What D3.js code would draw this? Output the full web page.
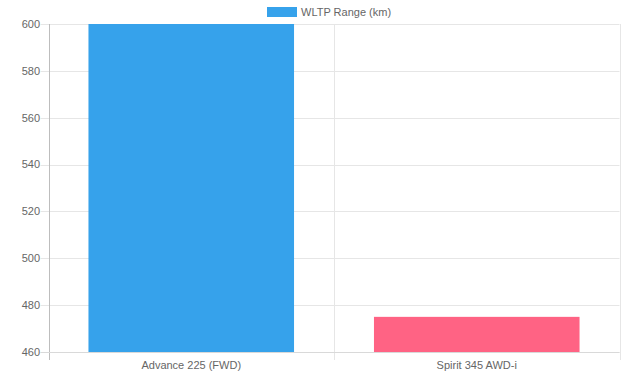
<!DOCTYPE html>
<html>
<head>
<meta charset="utf-8">
<script src="https://cdn.jsdelivr.net/npm/d3@7"></script>
<style>
  body { margin: 0; background: #fff; }
  svg { display: block; font-family: "Liberation Sans", Arial, sans-serif; }
</style>
</head>
<body>
<svg id="chart" width="636" height="378"></svg>
<script>
// data
const models = ["Advance 225 (FWD)", "Spirit 345 AWD-i"];
const rangeKm = [600, 475];
const barColors = ["#36a2eb", "#ff6384"];
const yTicks = [460, 480, 500, 520, 540, 560, 580, 600];
const seriesName = "WLTP Range (km)";

const svg = d3.select("#chart");
const plotL = 48.5, plotR = 619.5, plotT = 24, plotB = 352;

const x = d3.scaleBand().domain(models).range([plotL, plotR]).paddingInner(0).paddingOuter(0);
const y = d3.scaleLinear().domain([460, 600]).range([plotB, plotT]);

// horizontal grid + tick marks
svg.append("g")
  .selectAll("line")
  .data(yTicks)
  .join("line")
  .attr("x1", plotL - 8)
  .attr("x2", plotR)
  .attr("y1", d => Math.round(y(d)) + 0.5)
  .attr("y2", d => Math.round(y(d)) + 0.5)
  .attr("stroke", "#e6e6e6");

// vertical grid at category edges
const edges = [plotL + x.bandwidth(), plotR];
svg.append("g")
  .selectAll("line")
  .data(edges)
  .join("line")
  .attr("x1", d => Math.round(d) + 0.5)
  .attr("x2", d => Math.round(d) + 0.5)
  .attr("y1", plotT)
  .attr("y2", plotB + 8)
  .attr("stroke", "#e6e6e6");

// bars
svg.append("g")
  .selectAll("rect")
  .data(models)
  .join("rect")
  .attr("x", d => x(d) + x.bandwidth() * 0.14)
  .attr("width", x.bandwidth() * 0.72)
  .attr("y", (d, i) => y(rangeKm[i]))
  .attr("height", (d, i) => plotB - y(rangeKm[i]))
  .attr("fill", (d, i) => barColors[i]);

// axis lines
svg.append("line")
  .attr("x1", Math.round(plotL) + 0.5).attr("x2", Math.round(plotL) + 0.5)
  .attr("y1", plotT).attr("y2", plotB + 8)
  .attr("stroke", "#bdbdbd");
svg.append("line")
  .attr("x1", plotL - 8).attr("x2", plotR)
  .attr("y1", plotB + 0.5).attr("y2", plotB + 0.5)
  .attr("stroke", "#d9d9d9");

// y tick labels
svg.append("g")
  .selectAll("text")
  .data(yTicks)
  .join("text")
  .attr("x", 40)
  .attr("y", d => y(d))
  .attr("dy", "0.35em")
  .attr("text-anchor", "end")
  .attr("font-size", 11)
  .attr("fill", "#666")
  .text(d => d);

// x labels
svg.append("g")
  .selectAll("text")
  .data(models)
  .join("text")
  .attr("x", d => x(d) + x.bandwidth() / 2)
  .attr("y", plotB + 17)
  .attr("text-anchor", "middle")
  .attr("font-size", 11)
  .attr("fill", "#666")
  .text(d => d);

// legend
const lg = svg.append("g");
lg.append("rect")
  .attr("x", 267).attr("y", 7)
  .attr("width", 30).attr("height", 10)
  .attr("fill", barColors[0]);
lg.append("text")
  .attr("x", 301).attr("y", 12)
  .attr("dy", "0.35em")
  .attr("font-size", 11)
  .attr("fill", "#666")
  .text(seriesName);
</script>
</body>
</html>
